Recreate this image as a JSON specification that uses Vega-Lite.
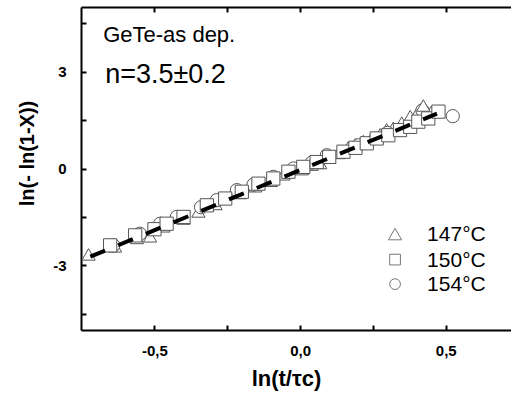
{
  "$schema": "https://vega.github.io/schema/vega-lite/v6.json",
  "width": 430,
  "height": 323,
  "autosize": "none",
  "padding": {"left": 81, "top": 7, "right": 0, "bottom": 66},
  "background": "white",
  "config": {
    "view": {"stroke": null},
    "font": "Liberation Sans",
    "axis": {
      "labelFont": "Liberation Sans",
      "labelFontWeight": "bold",
      "labelFontSize": 15,
      "labelColor": "black",
      "domainColor": "black",
      "domainWidth": 2,
      "tickColor": "black",
      "tickWidth": 2,
      "tickSize": -5,
      "grid": false,
      "titleFont": "Liberation Sans",
      "titleFontWeight": "bold",
      "titleColor": "black"
    }
  },
  "datasets": {
    "pts": [
      {"T": "147°C", "x": -0.726, "y": -2.66}, {"T": "147°C", "x": -0.635, "y": -2.41}, {"T": "147°C", "x": -0.56, "y": -2.15},
      {"T": "147°C", "x": -0.515, "y": -2.10}, {"T": "147°C", "x": -0.469, "y": -1.79}, {"T": "147°C", "x": -0.40, "y": -1.55},
      {"T": "147°C", "x": -0.349, "y": -1.33}, {"T": "147°C", "x": -0.29, "y": -1.10}, {"T": "147°C", "x": -0.206, "y": -0.76},
      {"T": "147°C", "x": -0.154, "y": -0.55}, {"T": "147°C", "x": -0.10, "y": -0.38}, {"T": "147°C", "x": -0.057, "y": -0.18},
      {"T": "147°C", "x": 0.006, "y": -0.02}, {"T": "147°C", "x": 0.04, "y": 0.12}, {"T": "147°C", "x": 0.069, "y": 0.17},
      {"T": "147°C", "x": 0.10, "y": 0.34}, {"T": "147°C", "x": 0.132, "y": 0.48}, {"T": "147°C", "x": 0.165, "y": 0.65},
      {"T": "147°C", "x": 0.19, "y": 0.75}, {"T": "147°C", "x": 0.217, "y": 0.85}, {"T": "147°C", "x": 0.246, "y": 0.95},
      {"T": "147°C", "x": 0.275, "y": 1.06}, {"T": "147°C", "x": 0.297, "y": 1.21}, {"T": "147°C", "x": 0.32, "y": 1.26},
      {"T": "147°C", "x": 0.349, "y": 1.42}, {"T": "147°C", "x": 0.378, "y": 1.62}, {"T": "147°C", "x": 0.406, "y": 1.78},
      {"T": "147°C", "x": 0.45, "y": 1.75},
      {"T": "154°C", "x": -0.641, "y": -2.38}, {"T": "154°C", "x": -0.55, "y": -2.02}, {"T": "154°C", "x": -0.48, "y": -1.71},
      {"T": "154°C", "x": -0.423, "y": -1.50}, {"T": "154°C", "x": -0.34, "y": -1.20}, {"T": "154°C", "x": -0.286, "y": -0.98},
      {"T": "154°C", "x": -0.217, "y": -0.67}, {"T": "154°C", "x": -0.16, "y": -0.50}, {"T": "154°C", "x": -0.092, "y": -0.26},
      {"T": "154°C", "x": -0.023, "y": 0.0}, {"T": "154°C", "x": 0.04, "y": 0.18}, {"T": "154°C", "x": 0.092, "y": 0.41},
      {"T": "154°C", "x": 0.20, "y": 0.72}, {"T": "154°C", "x": 0.30, "y": 1.10}, {"T": "154°C", "x": 0.42, "y": 1.80},
      {"T": "154°C", "x": 0.524, "y": 1.62},
      {"T": "147°C", "x": 0.423, "y": 1.95},
      {"T": "150°C", "x": -0.652, "y": -2.38}, {"T": "150°C", "x": -0.566, "y": -2.07}, {"T": "150°C", "x": -0.50, "y": -1.88},
      {"T": "150°C", "x": -0.458, "y": -1.71}, {"T": "150°C", "x": -0.40, "y": -1.50}, {"T": "150°C", "x": -0.32, "y": -1.14},
      {"T": "150°C", "x": -0.257, "y": -0.93}, {"T": "150°C", "x": -0.20, "y": -0.72}, {"T": "150°C", "x": -0.143, "y": -0.47},
      {"T": "150°C", "x": -0.092, "y": -0.31}, {"T": "150°C", "x": -0.04, "y": -0.10}, {"T": "150°C", "x": 0.011, "y": 0.05},
      {"T": "150°C", "x": 0.057, "y": 0.20}, {"T": "150°C", "x": 0.10, "y": 0.36}, {"T": "150°C", "x": 0.149, "y": 0.52},
      {"T": "150°C", "x": 0.19, "y": 0.64}, {"T": "150°C", "x": 0.229, "y": 0.78}, {"T": "150°C", "x": 0.263, "y": 0.93},
      {"T": "150°C", "x": 0.303, "y": 1.03}, {"T": "150°C", "x": 0.343, "y": 1.19}, {"T": "150°C", "x": 0.378, "y": 1.29},
      {"T": "150°C", "x": 0.406, "y": 1.45}, {"T": "150°C", "x": 0.44, "y": 1.55}, {"T": "150°C", "x": 0.475, "y": 1.76}
    ],
    "fit": [
      {"x": -0.72, "y": -2.73},
      {"x": 0.47, "y": 1.70}
    ]
  },
  "resolve": {"axis": {"x": "independent", "y": "independent"}},
  "layer": [
    {
      "data": {"name": "pts"},
      "mark": {"type": "point", "filled": false, "fill": "white", "color": "#555555", "strokeWidth": 1, "size": 175, "opacity": 1},
      "encoding": {
        "x": {
          "field": "x", "type": "quantitative",
          "scale": {"domain": [-0.752, 0.724], "nice": false, "zero": false},
          "axis": {
            "orient": "bottom",
            "values": [-0.5, -0.25, 0, 0.25, 0.5],
            "labelExpr": "datum.value == -0.5 ? '-0,5' : datum.value == 0 ? '0,0' : datum.value == 0.5 ? '0,5' : ''",
            "labelPadding": 18,
            "title": "ln(t/τc)",
            "titleFontSize": 22,
            "titleX": 205,
            "titleY": 55,
            "titleAlign": "center",
            "titleBaseline": "alphabetic"
          }
        },
        "y": {
          "field": "y", "type": "quantitative",
          "scale": {"domain": [-5, 5], "nice": false, "zero": false},
          "axis": {
            "orient": "left",
            "values": [-4.5, -3, -1.5, 0, 1.5, 3, 4.5],
            "labelExpr": "datum.value == 3 ? '3' : datum.value == 0 ? '0' : datum.value == -3 ? '-3' : ''",
            "labelPadding": 20,
            "title": "ln(- ln(1-X))",
            "titleFontSize": 20,
            "titleX": -54,
            "titleY": 146,
            "titleAlign": "center",
            "titleBaseline": "middle",
            "titleAngle": -90
          }
        },
        "shape": {
          "field": "T", "type": "nominal",
          "scale": {"domain": ["147°C", "150°C", "154°C"], "range": ["triangle-up", "square", "circle"]},
          "legend": null
        }
      }
    },
    {
      "data": {"name": "fit"},
      "mark": {"type": "line", "color": "black", "strokeWidth": 4, "strokeDash": [16, 14]},
      "encoding": {
        "x": {
          "field": "x", "type": "quantitative",
          "axis": {"orient": "top", "values": [-0.5, -0.25, 0, 0.25, 0.5], "labels": false, "title": null}
        },
        "y": {"field": "y", "type": "quantitative", "axis": null}
      }
    },
    {
      "data": {"values": [{"t": "GeTe-as dep."}]},
      "mark": {"type": "text", "font": "Liberation Sans", "fontSize": 22, "align": "left", "baseline": "alphabetic", "color": "black"},
      "encoding": {
        "x": {"datum": -0.676, "type": "quantitative", "axis": null},
        "y": {"datum": 3.93, "type": "quantitative", "axis": null},
        "text": {"field": "t"}
      }
    },
    {
      "data": {"values": [{"t": "n=3.5±0.2"}]},
      "mark": {"type": "text", "font": "Liberation Sans", "fontSize": 27, "align": "left", "baseline": "alphabetic", "color": "black"},
      "encoding": {
        "x": {"datum": -0.669, "type": "quantitative", "axis": null},
        "y": {"datum": 2.64, "type": "quantitative", "axis": null},
        "text": {"field": "t"}
      }
    },
    {
      "data": {"values": [{"T": "147°C"}]},
      "mark": {"type": "point", "shape": "triangle-up", "filled": false, "fill": "white", "color": "#777777", "strokeWidth": 1, "size": 175, "opacity": 1},
      "encoding": {
        "x": {"datum": 0.326, "type": "quantitative", "axis": null},
        "y": {"datum": -2.03, "type": "quantitative", "axis": null}
      }
    },
    {
      "data": {"values": [{"T": "150°C"}]},
      "mark": {"type": "point", "shape": "square", "filled": false, "fill": "white", "color": "#777777", "strokeWidth": 1, "size": 115, "opacity": 1},
      "encoding": {
        "x": {"datum": 0.326, "type": "quantitative", "axis": null},
        "y": {"datum": -2.82, "type": "quantitative", "axis": null}
      }
    },
    {
      "data": {"values": [{"T": "154°C"}]},
      "mark": {"type": "point", "shape": "circle", "filled": false, "fill": "white", "color": "#777777", "strokeWidth": 1, "size": 115, "opacity": 1},
      "encoding": {
        "x": {"datum": 0.326, "type": "quantitative", "axis": null},
        "y": {"datum": -3.58, "type": "quantitative", "axis": null}
      }
    },
    {
      "data": {"values": [{"T": "147°C"}]},
      "mark": {"type": "text", "font": "Liberation Sans", "fontSize": 21, "align": "left", "baseline": "middle", "color": "black", "dy": 1},
      "encoding": {
        "x": {"datum": 0.436, "type": "quantitative", "axis": null},
        "y": {"datum": -2.03, "type": "quantitative", "axis": null},
        "text": {"field": "T"}
      }
    },
    {
      "data": {"values": [{"T": "150°C"}]},
      "mark": {"type": "text", "font": "Liberation Sans", "fontSize": 21, "align": "left", "baseline": "middle", "color": "black", "dy": 1},
      "encoding": {
        "x": {"datum": 0.436, "type": "quantitative", "axis": null},
        "y": {"datum": -2.82, "type": "quantitative", "axis": null},
        "text": {"field": "T"}
      }
    },
    {
      "data": {"values": [{"T": "154°C"}]},
      "mark": {"type": "text", "font": "Liberation Sans", "fontSize": 21, "align": "left", "baseline": "middle", "color": "black", "dy": 1},
      "encoding": {
        "x": {"datum": 0.436, "type": "quantitative", "axis": null},
        "y": {"datum": -3.58, "type": "quantitative", "axis": null},
        "text": {"field": "T"}
      }
    }
  ]
}
